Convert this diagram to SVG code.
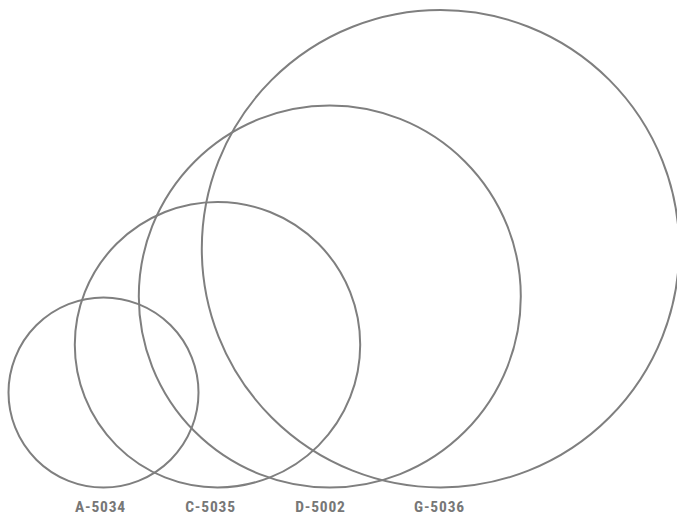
<svg xmlns="http://www.w3.org/2000/svg" width="677" height="514" viewBox="0 0 677 514">
<style>
.c{fill:none;stroke:#7f7f7f;stroke-width:2}
.t{font-family:"Liberation Sans Narrow","Roboto Condensed","Liberation Sans",sans-serif;font-weight:bold;font-size:15.5px;letter-spacing:0.8px;fill:#777;text-anchor:middle}
</style>
<rect width="677" height="514" fill="#fff"/>
<g id="A-5034"><circle class="c" cx="103.5" cy="392.5" r="95"/><text class="t" x="100.5" y="511.5">A-5034</text></g>
<g id="C-5035"><circle class="c" cx="217.5" cy="344.7" r="142.7"/><text class="t" x="210.5" y="511.5">C-5035</text></g>
<g id="D-5002"><circle class="c" cx="329.8" cy="296.5" r="191"/><text class="t" x="320.5" y="511.5">D-5002</text></g>
<g id="G-5036"><circle class="c" cx="440.5" cy="248.7" r="238.7"/><text class="t" x="439.5" y="511.5">G-5036</text></g>
<g id="connectors"/>
</svg>
